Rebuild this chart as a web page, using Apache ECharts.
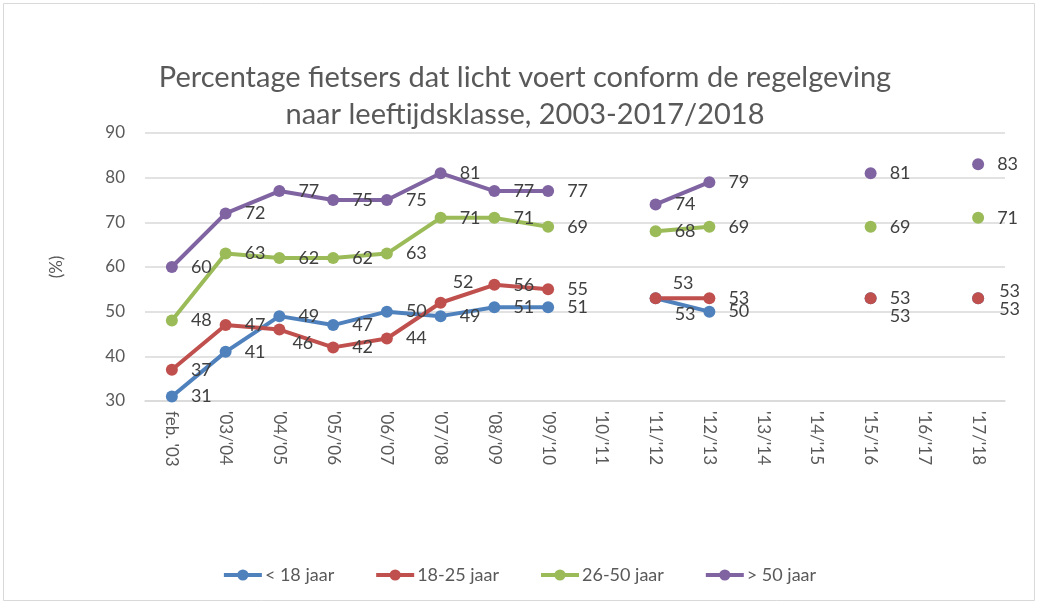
<!DOCTYPE html>
<html>
<head>
<meta charset="utf-8">
<script src="https://cdn.jsdelivr.net/npm/echarts@6/dist/echarts.min.js"></script>
<style>
  html, body { margin: 0; padding: 0; background: #fff; }
  #chart { width: 1038px; height: 604px; }
</style>
</head>
<body>
<div id="chart"></div>
<script>
// schooljaren op de x-as
const categories = ["feb. '03", "'03/'04", "'04/'05", "'05/'06", "'06/'07", "'07/'08", "'08/'09", "'09/'10",
  "'10/'11", "'11/'12", "'12/'13", "'13/'14", "'14/'15", "'15/'16", "'16/'17", "'17/'18"];

// percentages per leeftijdsklasse (null = niet gemeten)
const onder18 = [31, 41, 49, 47, 50, 49, 51, 51, null, 53, 50, null, null, 53, null, 53];
const jaar18_25 = [37, 47, 46, 42, 44, 52, 56, 55, null, 53, 53, null, null, 53, null, 53];
const jaar26_50 = [48, 63, 62, 62, 63, 71, 71, 69, null, 68, 69, null, null, 69, null, 71];
const boven50 = [60, 72, 77, 75, 75, 81, 77, 77, null, 74, 79, null, null, 81, null, 83];

const seriesNames = ['< 18 jaar', '18-25 jaar', '26-50 jaar', '> 50 jaar'];
const yTicks = { min: 30, max: 90, interval: 10 };

const font = 'Lato, "Open Sans", sans-serif';
const colors = ['#4f81bd', '#c0504d', '#9bbb59', '#8064a2'];

// labels die niet gewoon rechts van het punt staan
const labelShift = {
  0: { 9: [0, 16], 13: [0, 18], 15: [2, -7] },
  1: { 2: [-6, 14], 5: [-7, -21], 9: [-2, -15], 15: [2, 11] }
};

function makeData(values, si) {
  return values.map((v, i) => {
    const s = labelShift[si] && labelShift[si][i];
    if (v === null || !s) return v;
    return { value: v, label: { offset: s } };
  });
}

const chart = echarts.init(document.getElementById('chart'));
const allValues = [onder18, jaar18_25, jaar26_50, boven50];

const option = {
  animation: false,
  color: colors,
  textStyle: { fontFamily: font },
  graphic: [{
    type: 'rect',
    shape: { x: 3.5, y: 3.5, width: 1031, height: 597 },
    style: { fill: 'none', stroke: '#d9d9d9', lineWidth: 1 },
    silent: true
  }],
  title: {
    text: 'Percentage fietsers dat licht voert conform de regelgeving\nnaar leeftijdsklasse, 2003-2017/2018',
    left: 520,
    textAlign: 'center',
    top: 54,
    textStyle: { fontFamily: font, fontSize: 29, fontWeight: 'normal', color: '#595959', lineHeight: 37 }
  },
  legend: {
    bottom: 15,
    left: 'center',
    itemWidth: 38,
    itemHeight: 14,
    itemGap: 40,
    lineStyle: { width: 4 },
    textStyle: { fontFamily: font, fontSize: 18, color: '#595959', padding: [0, 0, 0, -2] },
    data: seriesNames
  },
  grid: { left: 145, right: 33, top: 133, bottom: 203 },
  xAxis: {
    type: 'category',
    data: categories,
    boundaryGap: true,
    axisLine: { lineStyle: { color: '#d9d9d9', width: 1.5 } },
    axisTick: { show: false },
    axisLabel: { rotate: -90, fontSize: 17, color: '#595959', margin: 10, fontFamily: font, interval: 0 }
  },
  yAxis: {
    type: 'value',
    min: yTicks.min,
    max: yTicks.max,
    interval: yTicks.interval,
    name: '(%)',
    nameLocation: 'middle',
    nameRotate: 90,
    nameGap: 80,
    nameTextStyle: { fontSize: 17, color: '#595959', fontFamily: font },
    axisLine: { show: false },
    axisTick: { show: false },
    splitLine: { lineStyle: { color: '#d9d9d9', width: 1.5 } },
    axisLabel: { fontSize: 17, color: '#595959', margin: 20, fontFamily: font }
  },
  series: allValues.map((vals, si) => ({
    name: seriesNames[si],
    type: 'line',
    data: makeData(vals, si),
    connectNulls: false,
    symbol: 'circle',
    symbolSize: 12,
    showAllSymbol: true,
    lineStyle: { width: 4 },
    label: {
      show: true,
      position: 'right',
      distance: 13,
      fontSize: 18,
      color: '#404040',
      fontFamily: font
    }
  }))
};

chart.setOption(option);
</script>
</body>
</html>
